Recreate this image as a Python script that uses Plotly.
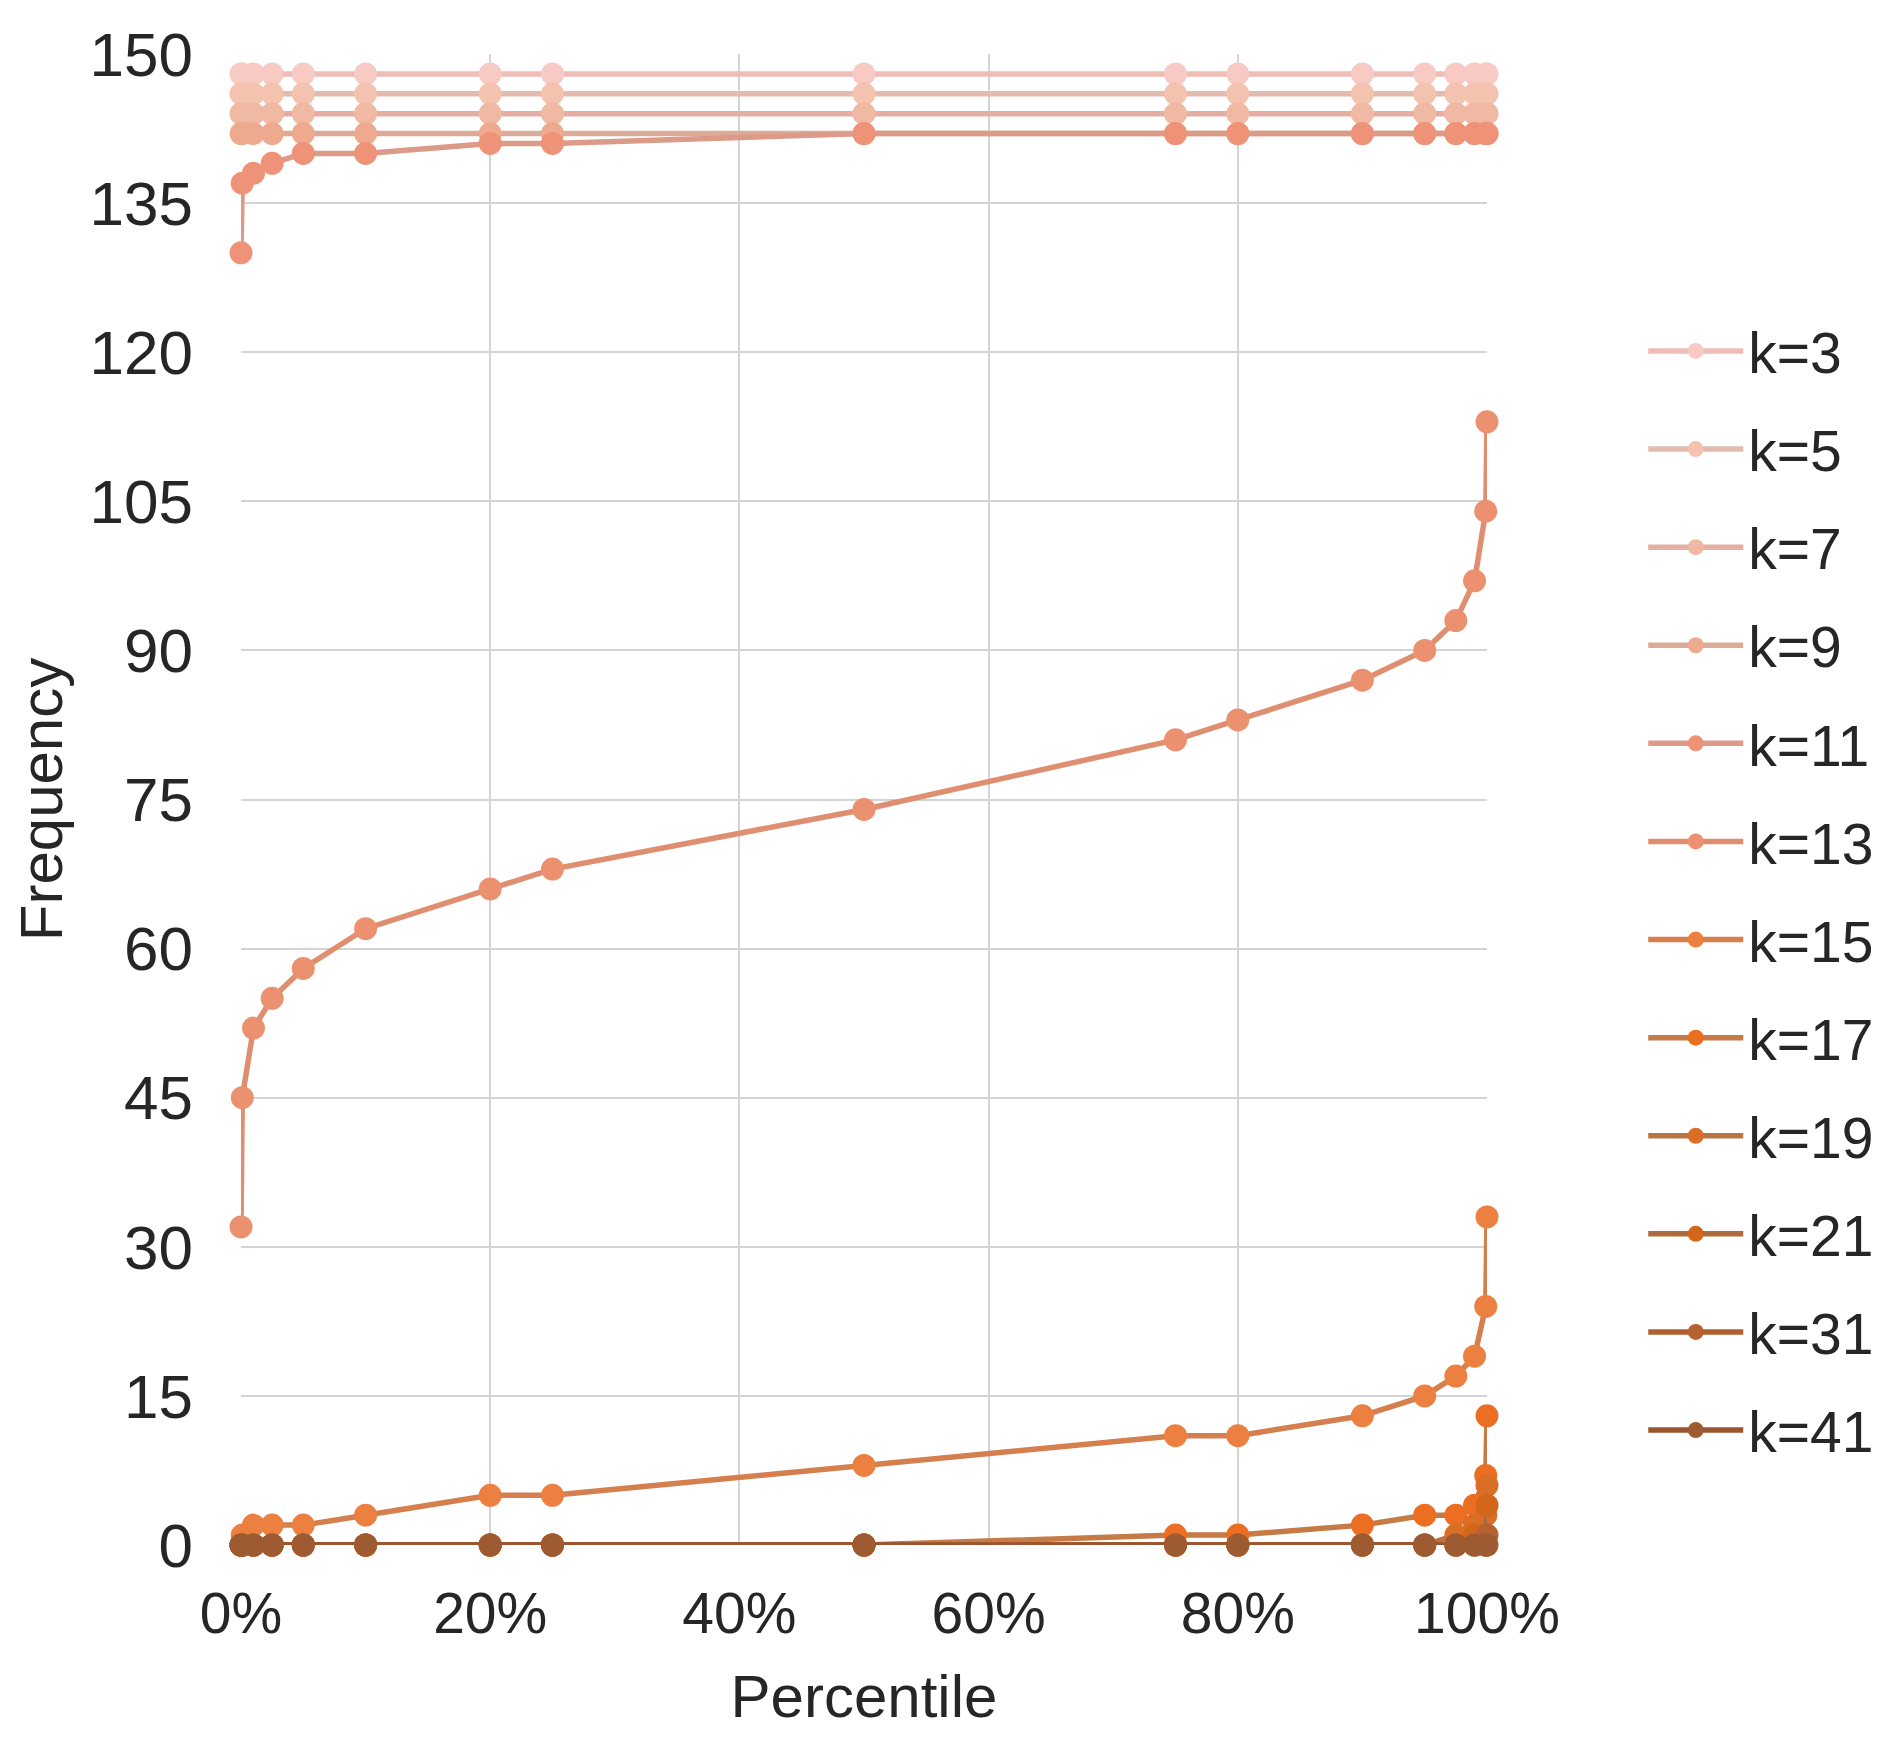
import plotly.graph_objects as go

# percentile positions (fraction of 1)
percentiles = [0, 0.001, 0.01, 0.025, 0.05, 0.1, 0.2, 0.25, 0.5,
               0.75, 0.8, 0.9, 0.95, 0.975, 0.99, 0.999, 1]

k3 = [148] * 17
k5 = [146] * 17
k7 = [144] * 17
k9 = [142] * 17
k11 = [130, 137, 138, 139, 140, 140, 141, 141, 142, 142, 142, 142, 142, 142, 142, 142, 142]
k13 = [32, 45, 52, 55, 58, 62, 66, 68, 74, 81, 83, 87, 90, 93, 97, 104, 113]
k15 = [0, 1, 2, 2, 2, 3, 5, 5, 8, 11, 11, 13, 15, 17, 19, 24, 33]
k17 = [0, 0, 0, 0, 0, 0, 0, 0, 0, 1, 1, 2, 3, 3, 4, 7, 13]
k19 = [0, 0, 0, 0, 0, 0, 0, 0, 0, 0, 0, 0, 0, 1, 2, 3, 6]
k21 = [0, 0, 0, 0, 0, 0, 0, 0, 0, 0, 0, 0, 0, 0, 1, 1, 4]
k31 = [0, 0, 0, 0, 0, 0, 0, 0, 0, 0, 0, 0, 0, 0, 0, 0, 1]
k41 = [0] * 17

series = [("k=3", k3), ("k=5", k5), ("k=7", k7), ("k=9", k9), ("k=11", k11),
          ("k=13", k13), ("k=15", k15), ("k=17", k17), ("k=19", k19),
          ("k=21", k21), ("k=31", k31), ("k=41", k41)]

# (line colour, marker colour), light -> dark
colors = [("#EFBCB6", "#F7CAC3"), ("#E3BCAE", "#F4C3B0"), ("#E6ADA3", "#F0B9A3"),
          ("#DBAB98", "#EDAA8F"), ("#DC9A88", "#EE9278"), ("#E08E70", "#EC9170"),
          ("#D57E4E", "#EC8040"), ("#C67A46", "#EC6E22"), ("#B97444", "#DA6E26"),
          ("#AF6A3E", "#D2661B"), ("#B0602E", "#B66230"), ("#9A5530", "#9E5A30")]

FAMILY = "Liberation Sans, Arial, sans-serif"
TICK_FONT = dict(family=FAMILY, size=57, color="#262626")
YTICK_FONT = dict(family=FAMILY, size=62, color="#262626")
TITLE_FONT = dict(family=FAMILY, size=60, color="#262626")

fig = go.Figure()
for i, ((name, vals), (lc, mc)) in enumerate(zip(series, colors)):
    fig.add_trace(go.Scatter(
        x=percentiles, y=vals, name=name, mode="lines+markers",
        line=dict(color=lc, width=5.5),
        marker=dict(color=mc, size=23),
        cliponaxis=False, legendgroup=f"g{i}",
    ))

# page body adds an 8px offset, so margins are shifted to compensate
fig.update_layout(
    width=1896, height=1738,
    paper_bgcolor="white", plot_bgcolor="white",
    margin=dict(l=233, r=417, t=46, b=201),
    font=TICK_FONT,
    showlegend=True,
    legend=dict(x=1.1254, xanchor="left", y=0.4387, yanchor="middle",
                traceorder="grouped", tracegroupgap=21, itemwidth=95,
                font=TICK_FONT, bgcolor="rgba(0,0,0,0)"),
)
fig.update_xaxes(
    range=[0, 1], tickvals=[0, 0.2, 0.4, 0.6, 0.8, 1], tickformat=".0%",
    showgrid=True, gridcolor="#D4D4D4", gridwidth=2, zeroline=False,
    showline=False, ticklabelstandoff=30, automargin=False,
    tickfont=TICK_FONT,
    title=dict(text="Percentile", standoff=30, font=TITLE_FONT),
)
fig.update_yaxes(
    range=[0, 150], tick0=0, dtick=15,
    showgrid=True, gridcolor="#D4D4D4", gridwidth=2, zeroline=False,
    showline=False, ticklabelstandoff=47, automargin=False,
    tickfont=YTICK_FONT,
    title=dict(text="Frequency", standoff=36, font=TITLE_FONT),
)

fig.write_html("out.html")
